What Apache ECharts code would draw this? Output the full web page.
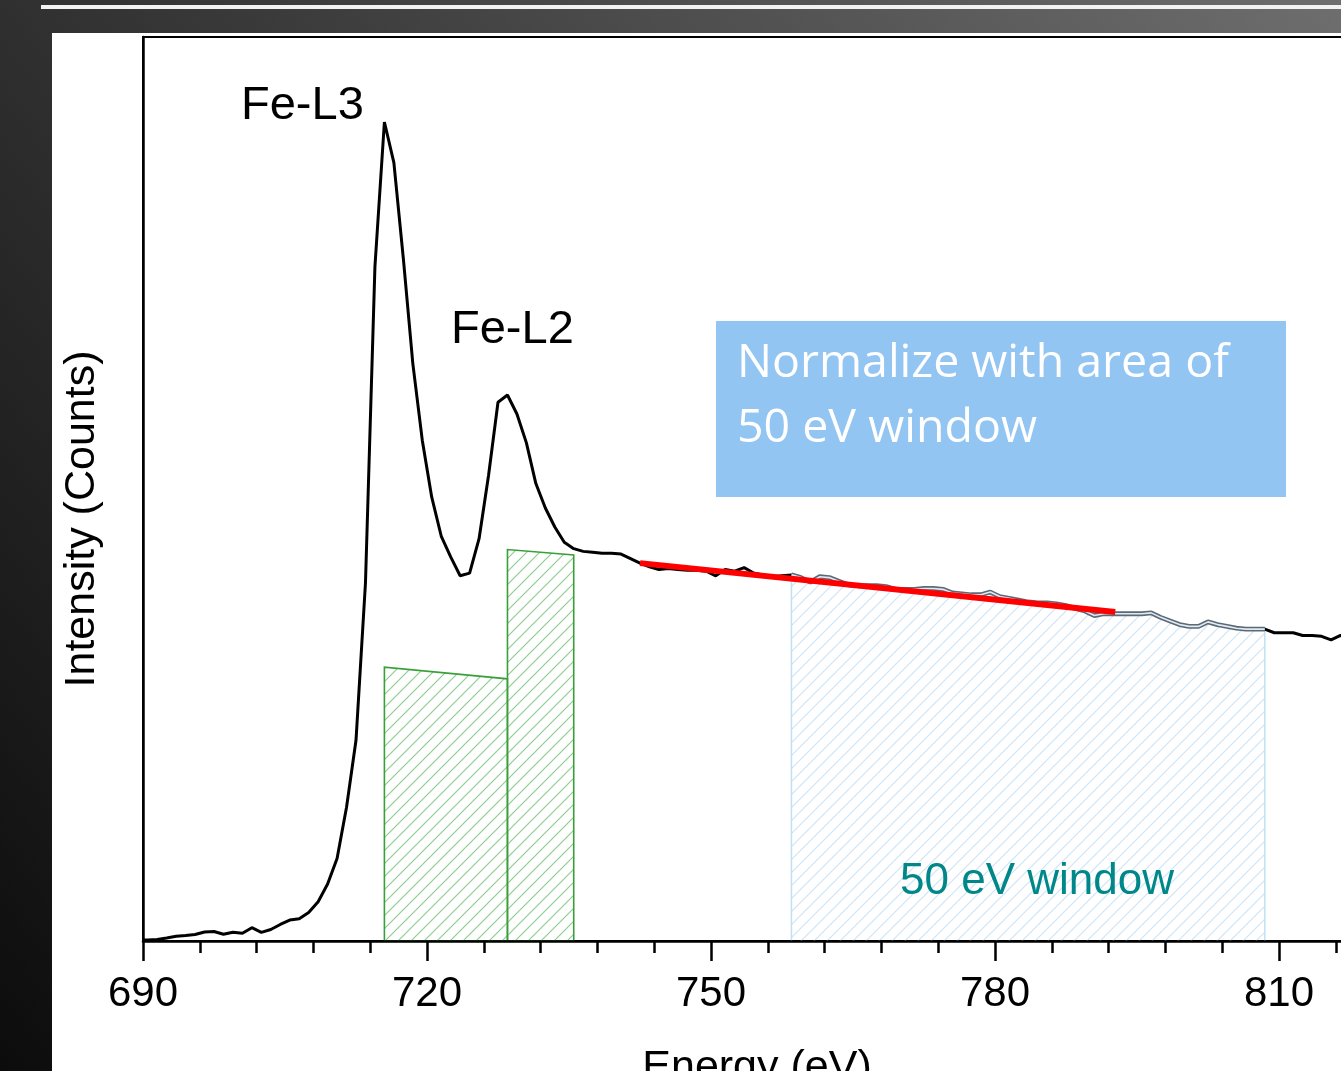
<!DOCTYPE html>
<html>
<head>
<meta charset="utf-8">
<script src="https://cdn.jsdelivr.net/npm/echarts@6/dist/echarts.min.js"></script>
<style>
html,body{margin:0;padding:0;background:#1a1a1a;overflow:hidden;width:1341px;height:1071px;}
#c{width:1700px;height:1071px;}
</style>
</head>
<body>
<div id="c"></div>
<script>
// ---- data ----
const xTicks = [690, 720, 750, 780, 810];
const energy = [690, 690.5, 691.5, 692.5, 693.5, 694.5, 695.5, 696.5, 697.5, 698.5, 699.5,
  700.5, 701.5, 702.5, 703.5, 704.5, 705.5, 706.5, 707.5, 708.5, 709.5,
  710.5, 711.5, 712.5, 713.5, 714.5, 715.5, 716.5, 717.5, 718.5, 719.5,
  720.5, 721.5, 722.5, 723.5, 724.5, 725.5, 726.5, 727.5, 728.5, 729.5,
  730.5, 731.5, 732.5, 733.5, 734.5, 735.5, 736.5, 737.5, 738.5, 739.5,
  740.5, 741.5, 742.5, 743.5, 744.5, 745.5, 746.5, 747.5, 748.5, 749.5,
  750.5, 751.5, 752.5, 753.5, 754.5, 755.5, 756.5, 757.5, 758.5, 759.5,
  760.5, 761.5, 762.5, 763.5, 764.5, 765.5, 766.5, 767.5, 768.5, 769.5,
  770.5, 771.5, 772.5, 773.5, 774.5, 775.5, 776.5, 777.5, 778.5, 779.5,
  780.5, 781.5, 782.5, 783.5, 784.5, 785.5, 786.5, 787.5, 788.5, 789.5,
  790.5, 791.5, 792.5, 793.5, 794.5, 795.5, 796.5, 797.5, 798.5, 799.5,
  800.5, 801.5, 802.5, 803.5, 804.5, 805.5, 806.5, 807.5, 808.5, 809.5,
  810.5, 811.5, 812.5, 813.5, 814.5, 815.5, 816.5, 817.5];
const intensity = [0.1, 0.1, 0.17, 0.33, 0.52, 0.61, 0.72, 1.0, 1.05, 0.74, 0.96,
  0.85, 1.47, 0.96, 1.27, 1.83, 2.32, 2.47, 3.15, 4.35, 6.3,
  9.13, 14.8, 22.2, 39.6, 74.6, 90.6, 86.1, 75.5, 63.9, 55.4,
  49.1, 44.8, 42.5, 40.4, 40.7, 44.5, 51.5, 59.6, 60.4, 58.3,
  55.1, 50.6, 47.9, 45.8, 44.1, 43.4, 43.1, 43.0, 42.9, 42.9,
  42.8, 42.3, 41.8, 41.4, 41.1, 41.2, 41.1, 41.0, 41.0, 40.9,
  40.4, 41.1, 40.9, 41.3, 40.7, 40.5, 40.3, 40.4, 40.5, 40.2,
  39.7, 40.3, 40.2, 39.8, 39.4, 39.3, 39.3, 39.3, 39.2, 38.9,
  38.9, 38.9, 39.0, 39.0, 38.9, 38.5, 38.4, 38.3, 38.3, 38.6,
  38.1, 37.9, 37.7, 37.5, 37.4, 37.4, 37.3, 37.1, 36.8, 36.5,
  36.0, 36.2, 36.2, 36.2, 36.2, 36.2, 36.3, 35.8, 35.4, 35.0,
  34.8, 34.8, 35.3, 35.0, 34.8, 34.6, 34.5, 34.5, 34.5, 34.1,
  34.1, 34.1, 33.8, 33.8, 33.7, 33.3, 33.8, 33.5];
// green integration windows: [xStart, yStart, xEnd, yEnd]
const edgeWindows = [[715.5, 30.3, 728.5, 29.0], [728.5, 43.3, 735.5, 42.7]];
// 50 eV normalization window
const normWindow = [758.5, 808.5];
// background fit line
const fitLine = [[742.5, 41.8], [792.7, 36.4]];

// ---- helpers ----
function hatch(color, size, lw) {
  const c = document.createElement('canvas');
  c.width = size; c.height = size;
  const g = c.getContext('2d');
  g.strokeStyle = color; g.lineWidth = lw;
  g.beginPath();
  g.moveTo(0, size); g.lineTo(size, 0);
  g.moveTo(-2, 2); g.lineTo(2, -2);
  g.moveTo(size - 2, size + 2); g.lineTo(size + 2, size - 2);
  g.stroke();
  return c;
}
const greenHatch = {image: hatch('#8fce8f', 13, 1.2), repeat: 'repeat'};
const blueHatch = {image: hatch('#cde5f7', 13, 1.2), repeat: 'repeat'};

const spectrum = energy.map((e, i) => [e, intensity[i]]);
const windowPts = spectrum.filter(p => p[0] >= normWindow[0] && p[0] <= normWindow[1]);

const font = 'Liberation Sans, Arial, sans-serif';

const chart = echarts.init(document.getElementById('c'), null, {renderer: 'canvas'});
chart.setOption({
  animation: false,
  backgroundColor: new echarts.graphic.LinearGradient(0.79, 0, 0, 1, [
    {offset: 0, color: '#6e6e6e'},
    {offset: 0.5, color: '#3a3a3a'},
    {offset: 1, color: '#0c0c0c'}
  ]),
  grid: {left: 143, top: 37, width: 1420, height: 904, show: true,
    borderColor: '#000', borderWidth: 2, backgroundColor: 'transparent'},
  xAxis: {
    type: 'value', min: 690, max: 840, interval: 30, z: 10,
    axisLine: {lineStyle: {color: '#000', width: 2.5}},
    axisTick: {length: 20, lineStyle: {color: '#000', width: 2.5}},
    minorTick: {show: true, splitNumber: 5, length: 12, lineStyle: {color: '#000', width: 2.5}},
    splitLine: {show: false},
    axisLabel: {fontSize: 42, fontFamily: font, color: '#000', margin: 32,
      formatter: v => (xTicks.indexOf(v) >= 0 ? String(v) : '')}
  },
  yAxis: {
    type: 'value', min: 0, max: 100, z: 10,
    axisLine: {show: true, lineStyle: {color: '#000', width: 2.5}},
    axisTick: {show: false}, axisLabel: {show: false}, splitLine: {show: false}
  },
  graphic: [
    {type: 'rect', z: -100, shape: {x: 52, y: 33, width: 1700, height: 1050}, style: {fill: '#fff'}},
    {type: 'rect', z: -100, shape: {x: 41, y: 5, width: 1700, height: 4}, style: {fill: '#f2f2f2'}},
    {type: 'rect', z: 5, shape: {x: 716, y: 321, width: 570, height: 176}, style: {fill: '#93c5f3'}},
    {type: 'text', z: 6, x: 737, y: 364, style: {text: 'Normalize with area of', fontSize: 46.5, fontFamily: 'Open Sans', fill: '#fff', align: 'left', verticalAlign: 'middle'}},
    {type: 'text', z: 6, x: 737, y: 429, style: {text: '50 eV window', fontSize: 46.5, fontFamily: 'Open Sans', fill: '#fff', align: 'left', verticalAlign: 'middle'}},
    {type: 'text', z: 6, x: 241, y: 106, style: {text: 'Fe-L3', fontSize: 47, fontFamily: font, fill: '#000', align: 'left', verticalAlign: 'middle'}},
    {type: 'text', z: 6, x: 451, y: 330, style: {text: 'Fe-L2', fontSize: 47, fontFamily: font, fill: '#000', align: 'left', verticalAlign: 'middle'}},
    {type: 'text', z: 6, x: 900, y: 882, style: {text: '50 eV window', fontSize: 44, fontFamily: font, fill: '#00878a', align: 'left', verticalAlign: 'middle'}},
    {type: 'text', z: 6, x: 757, y: 1068, style: {text: 'Energy (eV)', fontSize: 43, fontFamily: font, fill: '#000', align: 'center', verticalAlign: 'middle'}},
    {type: 'text', z: 6, x: 82, y: 519, rotation: Math.PI / 2, style: {text: 'Intensity (Counts)', fontSize: 43, fontFamily: font, fill: '#000', align: 'center', verticalAlign: 'middle'}}
  ],
  series: [
    {
      type: 'custom', z: 1, data: edgeWindows,
      renderItem: function (params, api) {
        const x0 = api.value(0), y0 = api.value(1), x1 = api.value(2), y1 = api.value(3);
        const pts = [api.coord([x0, 0]), api.coord([x0, y0]), api.coord([x1, y1]), api.coord([x1, 0])];
        return {type: 'polygon', shape: {points: pts}, style: {fill: greenHatch, stroke: '#3a9f3a', lineWidth: 1.6}};
      }
    },
    {
      type: 'custom', z: 1, data: [normWindow],
      renderItem: function (params, api) {
        const top = windowPts.map(p => api.coord(p));
        const a = api.coord([normWindow[0], 0]), b = api.coord([normWindow[1], 0]);
        const pts = [a].concat(top).concat([b]);
        return {type: 'group', children: [
          {type: 'polygon', shape: {points: pts}, style: {fill: blueHatch, stroke: null}},
          {type: 'line', shape: {x1: a[0], y1: a[1], x2: top[0][0], y2: top[0][1]}, style: {stroke: '#bfe0f6', lineWidth: 1.5}},
          {type: 'line', shape: {x1: b[0], y1: b[1], x2: top[top.length - 1][0], y2: top[top.length - 1][1]}, style: {stroke: '#bfe0f6', lineWidth: 1.5}}
        ]};
      }
    },
    {type: 'line', z: 3, data: spectrum, showSymbol: false, symbol: 'none',
      lineStyle: {color: '#000', width: 3}},
    {type: 'line', z: 4, data: windowPts, showSymbol: false, symbol: 'none',
      lineStyle: {color: '#5d6a76', width: 4.8}},
    {type: 'line', z: 4, data: windowPts, showSymbol: false, symbol: 'none',
      lineStyle: {color: '#dfeaf5', width: 1.6}},
    {type: 'line', z: 5, data: fitLine, showSymbol: false, symbol: 'none',
      lineStyle: {color: '#ff0000', width: 6}}
  ]
});
</script>
</body>
</html>
